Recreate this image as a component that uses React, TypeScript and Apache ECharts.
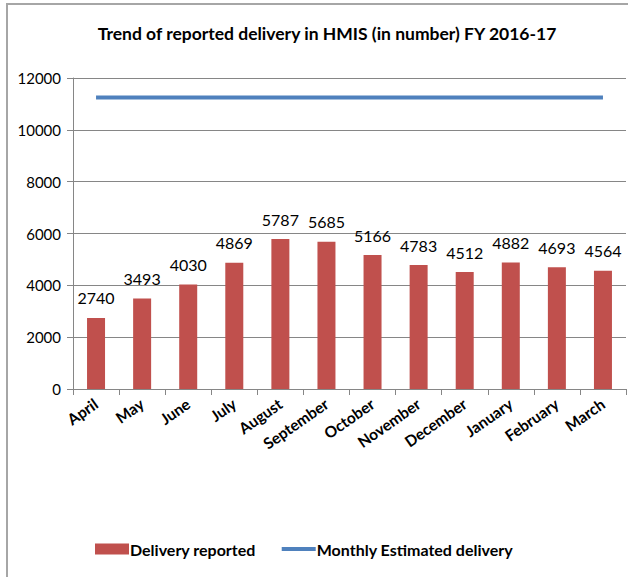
import React, { useEffect, useRef } from "react";
import * as echarts from "echarts";

const months = ["April", "May", "June", "July", "August", "September", "October", "November", "December", "January", "February", "March"];
const deliveryReported = [2740, 3493, 4030, 4869, 5787, 5685, 5166, 4783, 4512, 4882, 4693, 4564];
const monthlyEstimated = [11250, 11250, 11250, 11250, 11250, 11250, 11250, 11250, 11250, 11250, 11250, 11250];
const titleText = "Trend of reported delivery in HMIS (in number) FY 2016-17";

const FONT = "Lato, 'Open Sans', sans-serif";

export default function App() {
  const ref = useRef<HTMLDivElement>(null);
  useEffect(() => {
    const chart = echarts.init(ref.current!, null, { renderer: "svg" });
    chart.setOption({
      animation: false,
      backgroundColor: "#fff",
      textStyle: { fontFamily: FONT },
      title: {
        text: titleText,
        left: 322,
        textAlign: "center",
        top: 19,
        textStyle: { fontSize: 17.5, fontWeight: "bold", color: "#000", fontFamily: FONT },
      },
      graphic: [
        {
          type: "rect",
          shape: { x: 7, y: 4, width: 640, height: 600 },
          style: { fill: "none", stroke: "#a6a6a6", lineWidth: 2 },
          silent: true,
        },
      ],
      legend: {
        left: 90,
        top: 536,
        itemGap: 26,
        itemWidth: 34,
        itemHeight: 11,
        textStyle: { fontSize: 16, fontWeight: "bold", color: "#000", fontFamily: FONT, padding: [0, 0, 0, -4] },
        data: [
          { name: "Delivery reported", icon: "rect" },
          { name: "Monthly Estimated delivery", icon: "path://M0,0 L36,0 L36,4 L0,4 Z" },
        ],
      },
      grid: { left: 73, right: 2, top: 78, bottom: 188, containLabel: false },
      xAxis: {
        type: "category",
        data: months,
        axisLine: { lineStyle: { color: "#868686", width: 1 } },
        axisTick: { show: true, length: 6, lineStyle: { color: "#868686" } },
        axisLabel: {
          rotate: 35,
          interval: 0,
          fontSize: 15.5,
          fontWeight: "bold",
          color: "#000",
          fontFamily: FONT,
          margin: 13,
        },
      },
      yAxis: {
        type: "value",
        min: 0,
        max: 12000,
        interval: 2000,
        axisLine: { show: true, lineStyle: { color: "#868686", width: 1 } },
        axisTick: { show: true, length: 6, lineStyle: { color: "#868686" } },
        splitLine: { lineStyle: { color: "#868686", width: 1 } },
        axisLabel: { fontSize: 15, color: "#000", fontFamily: FONT, margin: 12, formatter: (v: number) => String(v) },
      },
      series: [
        {
          name: "Delivery reported",
          type: "bar",
          data: deliveryReported,
          barWidth: 18,
          itemStyle: { color: "#C0504D" },
          label: {
            show: true,
            position: "top",
            distance: 12,
            fontSize: 16,
            color: "#000",
            fontFamily: FONT,
          },
        },
        {
          name: "Monthly Estimated delivery",
          type: "line",
          data: monthlyEstimated,
          symbol: "none",
          lineStyle: { color: "#4F81BD", width: 4 },
          itemStyle: { color: "#4F81BD" },
        },
      ],
    });
    return () => chart.dispose();
  }, []);
  return (
    <div
      ref={ref}
      style={{ position: "absolute", left: 0, top: 0, width: 628, height: 577 }}
    />
  );
}
